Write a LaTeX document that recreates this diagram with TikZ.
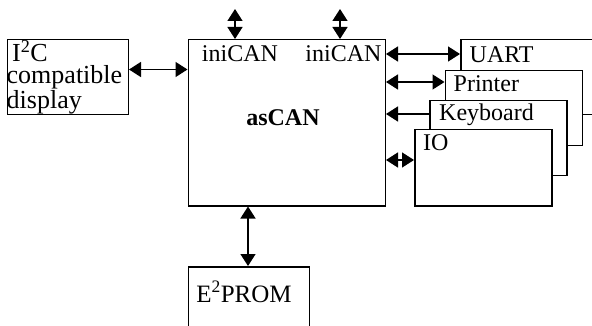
\documentclass[tikz,border=0pt]{standalone}
\usepackage{fontspec}
\setmainfont{Liberation Serif}
\usetikzlibrary{arrows.meta}
\begin{document}
\begin{tikzpicture}[x=1pt,y=-1pt,
  box/.style={draw,line width=1.5pt,fill=white,rectangle,inner sep=0pt,anchor=north west},
  lbl/.style={inner sep=0pt,anchor=base west,font=\fontsize{24}{22}\selectfont},
  dbl/.style={line width=1.5pt,{Triangle[length=12pt,width=15pt]}-{Triangle[length=12pt,width=15pt]}},
  sgl/.style={line width=1.5pt,-{Triangle[length=12pt,width=15pt]}}]
\useasboundingbox (0,0) rectangle (592,326);
\clip (0,0) rectangle (592,326);
% boxes
\node[box,minimum width=121pt,minimum height=75pt] (i2c) at (6.5,39) {};
\node[box,minimum width=197pt,minimum height=166pt] (ascan) at (187.5,39) {};
\node[box,minimum width=121pt,minimum height=80pt] (eprom) at (187.5,266) {};
\node[box,minimum width=137pt,minimum height=75pt] (uart) at (460,39) {};
\node[box,minimum width=137pt,minimum height=75pt] (printer) at (444.5,70) {};
\node[box,minimum width=137pt,minimum height=75pt] (keyboard) at (429,100) {};
\node[box,minimum width=137pt,minimum height=76pt] (io) at (414,129) {};
% texts
\node[lbl,anchor=north west,align=left,font=\fontsize{26}{22}\selectfont] (t-i2c) at (6.5,40.5)
  {\hspace{5.5pt}I\textsuperscript{2}C\\compatible\\display};
\node[lbl,anchor=base] (t-ini1) at (240,62) {iniCAN};
\node[lbl,anchor=base] (t-ini2) at (343.5,62) {iniCAN};
\node[lbl,anchor=center] (t-ascan) at (283,118) {\textbf{asCAN}};
\node[lbl,anchor=base,font=\fontsize{25}{22}\selectfont] (t-eprom) at (244,302) {E\textsuperscript{2}PROM};
\node[lbl] (t-uart) at (469.5,63) {UART};
\node[lbl] (t-printer) at (453.5,92) {Printer};
\node[lbl] (t-keyboard) at (439,121) {Keyboard};
\node[lbl] (t-io) at (423,151) {IO};
% free ends
\coordinate (top1) at (235,9);
\coordinate (top2) at (340,9);
\coordinate (y69) at (0,69.5);
\coordinate (y54) at (0,54);
\coordinate (y82) at (0,82);
\coordinate (y114) at (0,114);
\coordinate (y160) at (0,160);
\coordinate (x248) at (248,0);
% connectors
\draw[dbl] (top1) -- (top1 |- ascan.north);
\draw[dbl] (top2) -- (top2 |- ascan.north);
\draw[dbl] (i2c.east |- y69) -- (ascan.west |- y69);
\draw[dbl] (ascan.east |- y54) -- (uart.west |- y54);
\draw[dbl] (ascan.east |- y82) -- (printer.west |- y82);
\draw[sgl] (keyboard.west |- y114) -- (ascan.east |- y114);
\draw[dbl] (ascan.east |- y160) -- (io.west |- y160);
\draw[dbl] (x248 |- ascan.south) -- (x248 |- eprom.north);
\end{tikzpicture}
\end{document}
